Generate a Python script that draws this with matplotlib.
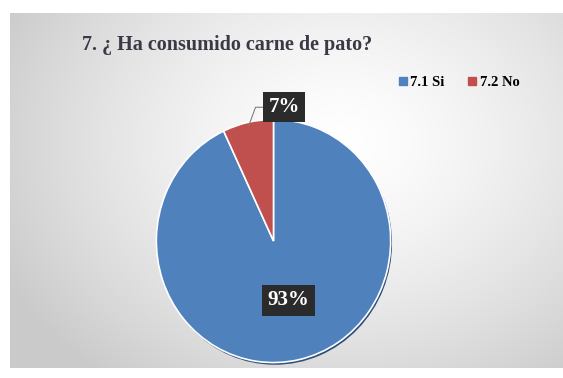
import numpy as np
import matplotlib.pyplot as plt

# Survey answers for question 7
labels = ["7.1 Si", "7.2 No"]
shares = [93, 7]
colors = ["#4f81bd", "#c0504d"]
title = "7. ¿ Ha consumido carne de pato?"

W, H = 563, 378
fig = plt.figure(figsize=(W / 100, H / 100), dpi=100)
fig.patch.set_facecolor("white")

# grey chart panel with a soft radial highlight
bg = fig.add_axes([10 / W, 1 - 368 / H, 553 / W, 355 / H])
yy, xx = np.mgrid[0:355, 0:553]
d = np.sqrt(((xx - 330) / 330.0) ** 2 + ((yy - 130) / 260.0) ** 2)
shade = 1.0 - 0.17 * np.clip(d, 0, 1.15) ** 1.4
bg.imshow(np.dstack([shade, shade, shade]), aspect="auto", interpolation="bilinear")
bg.axis("off")

fig.text(227 / W, 1 - 45 / H, title, ha="center", va="center",
         family="Liberation Serif", fontweight="bold", fontsize=14.5, color="#3a3a46")

# pie area
cx, cy, rx, ry = 273.5, 241, 119.5, 124
ax = fig.add_axes([(cx - rx) / W, 1 - (cy + ry) / H, 2 * rx / W, 2 * ry / H])

# thin dark rim under the pie
ax.pie([1], radius=1.0, center=(0.012, -0.018), colors=["#2f4f7a"],
       wedgeprops=dict(linewidth=0))

wedges, _ = ax.pie(shares, colors=colors, startangle=90, counterclock=False,
                   radius=1.0, wedgeprops=dict(edgecolor="white", linewidth=1.2))
ax.set_aspect("auto")
ax.set_xlim(-1.02, 1.02)
ax.set_ylim(-1.02, 1.02)
ax.axis("off")

box = dict(boxstyle="square,pad=0.25", facecolor="#2b2b2b", edgecolor="none")

# 93% label inside its wedge
w = wedges[0]
a = np.deg2rad((w.theta1 + w.theta2) / 2)
ax.text(0.5 * np.cos(a) + 0.02, 0.5 * np.sin(a), f"{shares[0]}%", ha="center", va="center",
        family="Liberation Serif", fontweight="bold", fontsize=15, color="white", bbox=box)

# 7% label outside with a leader line
w = wedges[1]
a = np.deg2rad((w.theta1 + w.theta2) / 2)
ax.annotate(f"{shares[1]}%", xy=(0.97 * np.cos(a), 0.97 * np.sin(a)), xytext=(0.09, 1.1),
            ha="center", va="center", family="Liberation Serif", fontweight="bold",
            fontsize=15, color="white", bbox=box, annotation_clip=False,
            arrowprops=dict(arrowstyle="-", color="#7f7f7f", lw=0.8,
                            connectionstyle="angle,angleA=180,angleB=70,rad=0",
                            shrinkA=0, shrinkB=0))

# legend
handles = [plt.Line2D([], [], marker="s", linestyle="none", markersize=5.5,
                      markerfacecolor=c, markeredgecolor=c) for c in colors]
fig.legend(handles, labels, loc="center", bbox_to_anchor=(459 / W, 1 - 82 / H), ncol=2,
           frameon=False, handlelength=0.6, handletextpad=0.2, columnspacing=1.6,
           prop=dict(family="Liberation Serif", weight="bold", size=10.5))

fig.savefig("out.png", dpi=100)
